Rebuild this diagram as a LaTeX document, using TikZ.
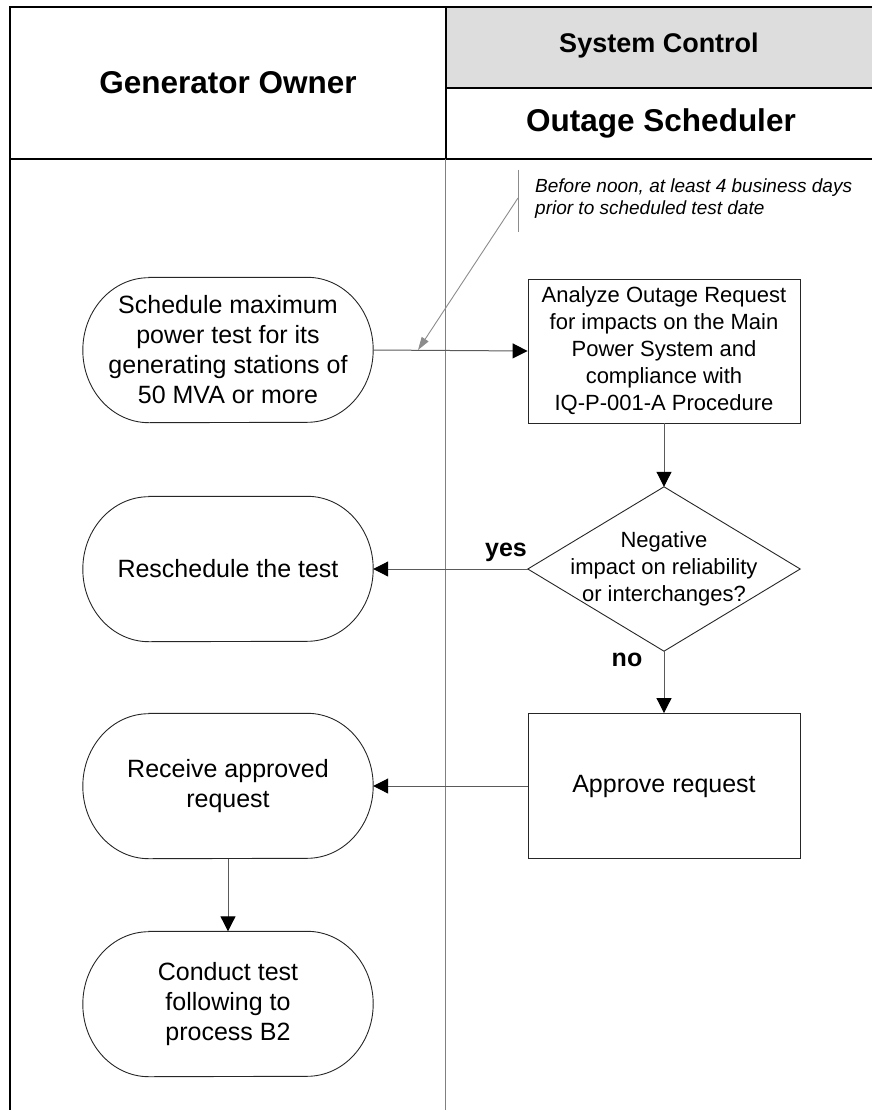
\documentclass[tikz,border=0pt]{standalone}
\usepackage{fontspec}
\setmainfont{Liberation Sans}
\usetikzlibrary{arrows.meta}

\definecolor{headgrey}{HTML}{DDDDDD}
\definecolor{lanegrey}{HTML}{808080}
\definecolor{wiregrey}{HTML}{5A5A5A}
\definecolor{notegrey}{HTML}{8C8C8C}

% outline of a terminator: flat top and bottom, elliptical ends
\newcommand\termoutline[1]{%
  \draw[shapeline] ([xshift=66pt]#1.north west) -- ([xshift=-66pt]#1.north east)
    arc[start angle=90,end angle=-90,x radius=66pt,y radius=72.5pt]
    -- ([xshift=66pt]#1.south west)
    arc[start angle=270,end angle=90,x radius=66pt,y radius=72.5pt] -- cycle;}

\begin{document}
\begin{tikzpicture}[x=1pt,y=1pt,
  frame/.style={line width=2pt,draw=black},
  lane/.style={line width=1pt,draw=lanegrey},
  shapeline/.style={draw=black!85,line width=0.9pt},
  flow/.style={draw=wiregrey,line width=1pt,
    -{Triangle[length=15pt,width=15pt,color=black]}},
  noteline/.style={draw=notegrey,line width=0.9pt},
  boxtext/.style={font=\fontsize{22}{27}\selectfont,align=center,inner sep=0pt},
  termtext/.style={font=\fontsize{25}{30}\selectfont,align=center,inner sep=0pt},
  lanehead/.style={font=\bfseries\fontsize{31.5}{36}\selectfont},
  branch/.style={font=\bfseries\fontsize{25}{30}\selectfont,inner sep=0pt},
  termnode/.style={termtext,minimum width=290pt,minimum height=145pt},
  procnode/.style={draw=black!85,line width=0.9pt,minimum width=272pt,minimum height=144pt}
]
\useasboundingbox (0,0) rectangle (872,-1110);

% swimlane header
\fill[headgrey] (446,-7) rectangle (872,-88);
\draw[frame] (872,-7) -- (10,-7) -- (10,-1110);
\draw[frame] (10,-159) -- (872,-159);
\draw[frame] (446,-7) -- (446,-159);
\draw[frame] (446,-88) -- (872,-88);
\node[lanehead] (owner) at (228,-83) {Generator Owner};
\node[font=\bfseries\fontsize{27}{32}\selectfont] (sysctl) at (659,-46) {System Control};
\node[lanehead] (sched-lane) at (661,-123) {Outage Scheduler};

% lane divider
\draw[lane] (445,-159) -- (445,-1110);

% Generator Owner lane
\node[termnode] (sched) at (228,-350)
  {Schedule maximum\\power test for its\\generating stations of\\50 MVA or more};
\termoutline{sched}
\node[termnode] (resched) at (228,-569) {Reschedule the test};
\termoutline{resched}
\node[termnode] (receive) at (228,-786) {Receive approved\\request};
\termoutline{receive}
\node[termnode] (conduct) at (228,-1004) {Conduct test\\following to\\process B2};
\termoutline{conduct}

% Outage Scheduler lane
\node[procnode,boxtext] (analyze) at (664,-351)
  {Analyze Outage Request\\for impacts on the Main\\Power System and\\compliance with\\IQ-P-001-A Procedure};
\node[boxtext,minimum width=272pt,minimum height=164pt] (decide) at (664,-569)
  {Negative\\impact on reliability\\or interchanges?};
\draw[shapeline] (decide.north) -- (decide.east) -- (decide.south) -- (decide.west) -- cycle;
\node[procnode,termtext,minimum height=145pt] (approve) at (664,-786) {Approve request};

% timing note
\coordinate (notetop) at (518,-170);
\coordinate (notebot) at (518,-232);
\coordinate (notefoot) at (518,-198);
\coordinate (notetip) at (418,-350);
\draw[noteline] (notetop) -- (notebot);
\node[anchor=north west,align=left,inner sep=0pt,
  font=\itshape\fontsize{19}{22}\selectfont] (note) at (535,-179)
  {Before noon, at least 4 business days\\prior to scheduled test date};
\draw[noteline,-{Triangle[length=13pt,width=8pt,color=notegrey]}] (notefoot) -- (notetip);

% flow
\draw[flow] (sched.east) -- (analyze.west);
\draw[flow] (analyze.south) -- (decide.north);
\draw[flow] (decide.west) -- (resched.east);
\draw[flow] (decide.south) -- (approve.north);
\draw[flow] (approve.west) -- (receive.east);
\draw[flow] (receive.south) -- (conduct.north);
\node[branch] (yes) at (506,-552) {yes};
\node[branch] (no) at (627,-660) {no};
\end{tikzpicture}
\end{document}
